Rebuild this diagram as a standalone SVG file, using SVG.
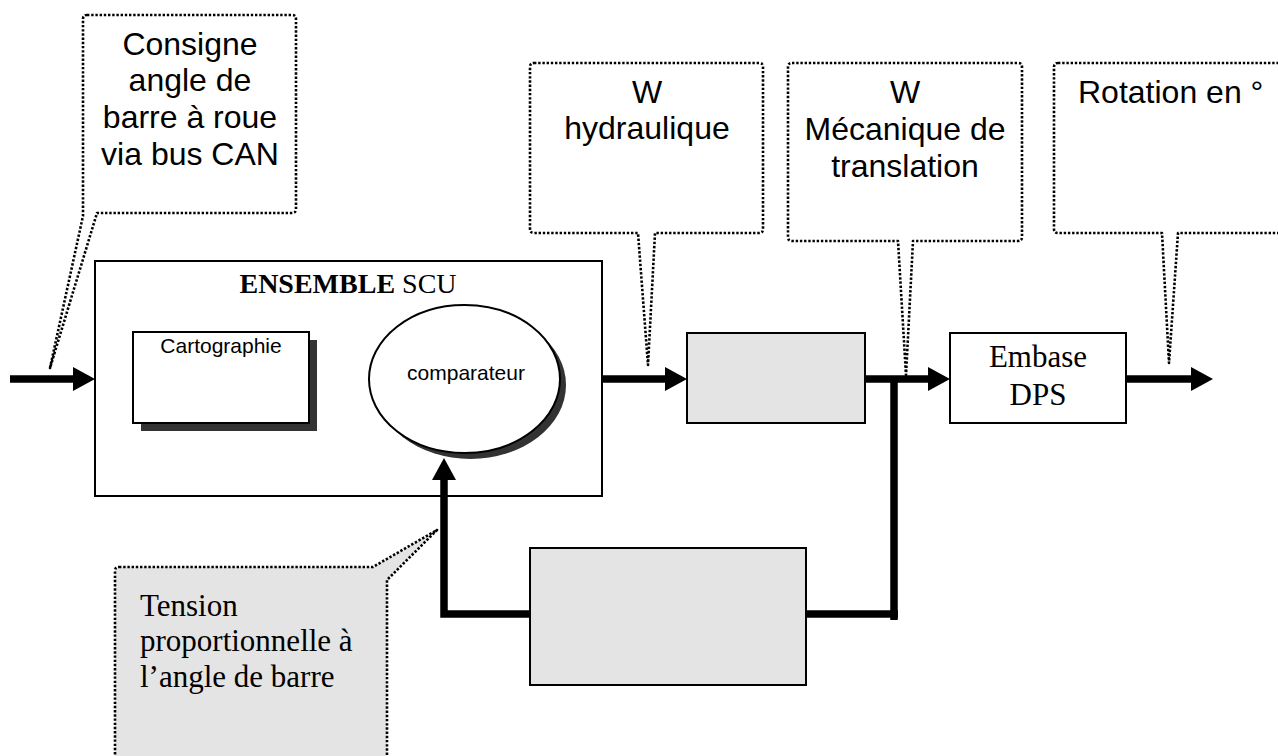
<svg xmlns="http://www.w3.org/2000/svg" width="1278" height="756" viewBox="0 0 1278 756">
<style>
.sans{font-family:"Liberation Sans",Arial,sans-serif;fill:#000}
.serif{font-family:"Liberation Serif","Times New Roman",serif;fill:#000}
.callout{fill:#fff;stroke:#000;stroke-width:2.6;stroke-dasharray:2.4 1.8;stroke-linejoin:round}
.box{stroke:#000;stroke-width:2}
.flow{fill:none;stroke:#000;stroke-width:7.5;stroke-linejoin:miter}
.big{font-size:32px}
.tnr{font-size:31px}
.small{font-size:21px}
</style>
<defs>
<marker id="arr" viewBox="0 0 22 24" refX="0" refY="12" markerWidth="22" markerHeight="24" markerUnits="userSpaceOnUse" orient="auto">
<path d="M0,0 L22,12 L0,24 Z" fill="#000"/>
</marker>
</defs>
<rect width="1278" height="756" fill="#fff"/>

<g id="callout-consigne">
<path class="callout" d="M87,15 H292 Q296,15 296,19 V209 Q296,213 292,213 H97 L50,368 L83,216 V19 Q83,15 87,15 Z"/>
<text class="sans big" text-anchor="middle" x="190" y="55">Consigne</text>
<text class="sans big" text-anchor="middle" x="190" y="91">angle de</text>
<text class="sans big" text-anchor="middle" x="190" y="128">barre à roue</text>
<text class="sans big" text-anchor="middle" x="190" y="165">via bus CAN</text>
</g>

<g id="callout-hydraulique">
<path class="callout" d="M534,63 H759 Q763,63 763,67 V229 Q763,233 759,233 H655 L648,365 L638,233 H534 Q530,233 530,229 V67 Q530,63 534,63 Z"/>
<text class="sans big" text-anchor="middle" x="647" y="103">W</text>
<text class="sans big" text-anchor="middle" x="647" y="139">hydraulique</text>
</g>

<g id="callout-mecanique">
<path class="callout" d="M792,63 H1018 Q1022,63 1022,67 V237 Q1022,241 1018,241 H913 L906,375 L898,241 H792 Q788,241 788,237 V67 Q788,63 792,63 Z"/>
<text class="sans big" text-anchor="middle" x="905" y="103">W</text>
<text class="sans big" text-anchor="middle" x="905" y="140">Mécanique de</text>
<text class="sans big" text-anchor="middle" x="905" y="177">translation</text>
</g>

<g id="callout-rotation">
<path class="callout" d="M1058,63 H1300 V233 H1178 L1169,363 L1162,233 H1058 Q1054,233 1054,229 V67 Q1054,63 1058,63 Z"/>
<text class="sans big" x="1078" y="103">Rotation en °</text>
</g>

<g id="ensemble-scu">
<rect class="box" x="95" y="261" width="507" height="235" fill="#fff"/>
<text class="serif" font-size="28" text-anchor="middle" x="348" y="293"><tspan font-weight="bold">ENSEMBLE</tspan> SCU</text>
</g>

<g id="cartographie">
<rect x="141" y="340" width="176" height="91" fill="#333"/>
<rect class="box" x="133" y="332" width="176" height="91" fill="#fff"/>
<text class="sans small" text-anchor="middle" x="221" y="353">Cartographie</text>
</g>

<g id="comparateur">
<ellipse cx="470.5" cy="385" rx="95.5" ry="74" fill="#333"/>
<ellipse class="box" cx="464.5" cy="379" rx="95.5" ry="74" fill="#fff"/>
<text class="sans small" text-anchor="middle" x="466" y="380">comparateur</text>
</g>

<g id="bloc-hydraulique">
<rect class="box" x="687" y="333" width="178" height="90" fill="#e4e4e4"/>
</g>

<g id="embase-dps">
<rect class="box" x="950" y="333" width="176" height="90" fill="#fff"/>
<text class="serif tnr" text-anchor="middle" x="1038" y="367">Embase</text>
<text class="serif tnr" text-anchor="middle" x="1038" y="405">DPS</text>
</g>

<g id="capteur">
<rect class="box" x="530" y="548" width="276" height="137" fill="#e4e4e4"/>
</g>

<g id="connectors">
<path class="flow" d="M10,379 H73" marker-end="url(#arr)"/>
<path class="flow" d="M602,379 H665" marker-end="url(#arr)"/>
<path class="flow" d="M865,379 H928" marker-end="url(#arr)"/>
<path class="flow" d="M1126,379 H1191" marker-end="url(#arr)"/>
<path class="flow" d="M894,379 V620"/>
<path class="flow" d="M806,614 H898"/>
<path class="flow" d="M530,614 H444 V480" marker-end="url(#arr)"/>
</g>

<g id="callout-tension">
<path class="callout" style="fill:#e4e4e4" d="M119,567 H373 L437,530 L387,580 V775 H115 V571 Q115,567 119,567 Z"/>
<text class="serif tnr" x="140" y="616">Tension</text>
<text class="serif tnr" x="140" y="651">proportionnelle à</text>
<text class="serif tnr" x="140" y="687">l’angle de barre</text>
</g>
</svg>
